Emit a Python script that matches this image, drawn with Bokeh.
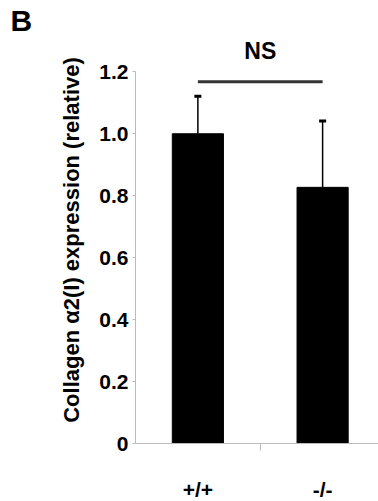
from bokeh.plotting import figure
from bokeh.models import (ColumnDataSource, Range1d, FixedTicker, Whisker, TeeHead, Label)
from bokeh.embed import file_html
from bokeh.resources import INLINE

# ---- data ----
categories = ["+/+", "-/-"]
means = [1.0, 0.827]
errors = [0.121, 0.214]
yticks = [0, 0.2, 0.4, 0.6, 0.8, 1.0, 1.2]
ytick_labels = ["0", "0.2", "0.4", "0.6", "0.8", "1.0", "1.2"]
sig_text = "NS"
sig_line_y = 1.168
sig_text_y = 1.268
panel_letter = "B"
y_label = "Collagen \u03b12(I) expression (relative)"

xs = [i + 0.5 for i in range(len(categories))]
uppers = [m + e for m, e in zip(means, errors)]
src = ColumnDataSource(dict(x=xs, mean=means, upper=uppers))

FONT = "Liberation Sans"
TOP, LEFT, BOTTOM = 36, 135, 58
FH = 407

p = figure(frame_width=243, frame_height=FH, min_border_left=LEFT, min_border_right=0,
           min_border_top=TOP, min_border_bottom=BOTTOM,
           x_range=Range1d(0, 1.948), y_range=Range1d(0, 1.314),
           output_backend="svg", toolbar_location=None)
p.outline_line_color = None
p.xgrid.grid_line_color = None
p.ygrid.grid_line_color = None
p.background_fill_color = "white"

# panel letter as title
p.title.text = panel_letter
p.title.align = "left"
p.title.offset = 10 - LEFT
p.title.standoff = 0
p.title.text_font = FONT
p.title.text_font_style = "bold"
p.title.text_font_size = "30px"
p.title.text_color = "black"

p.vbar(x="x", top="mean", width=0.41, color="black", source=src)
p.add_layout(Whisker(base="x", upper="upper", lower="mean", source=src,
                     line_color="black", line_width=1.5,
                     upper_head=TeeHead(size=7, line_width=3, line_color="black"),
                     lower_head=None))

# significance bar
p.segment(x0=[xs[0]], x1=[xs[1]], y0=[sig_line_y], y1=[sig_line_y],
          line_color="#333333", line_width=3)
p.add_layout(Label(x=(xs[0] + xs[1]) / 2, y=sig_text_y, text=sig_text,
                   text_align="center", text_baseline="middle",
                   text_font=FONT, text_font_style="bold",
                   text_font_size="23px", text_color="black"))

# y axis
ya = p.yaxis[0]
ya.ticker = FixedTicker(ticks=yticks)
ya.major_label_overrides = {t: l for t, l in zip(yticks, ytick_labels)}
ya.bounds = (yticks[0], yticks[-1])
ya.axis_line_color = "#bbbbbb"
ya.major_tick_line_color = "#bbbbbb"
ya.major_tick_out = 3
ya.major_tick_in = 0
ya.minor_tick_line_color = None
ya.major_label_standoff = 4
ya.major_label_text_font = FONT
ya.major_label_text_font_style = "bold"
ya.major_label_text_font_size = "21px"
ya.major_label_text_color = "black"
ya.axis_label = y_label
ya.axis_label_text_font = FONT
ya.axis_label_text_font_style = "bold"
ya.axis_label_text_font_size = "22px"
ya.axis_label_text_color = "black"
ya.axis_label_standoff = 12

# x axis
xa = p.xaxis[0]
xa.ticker = FixedTicker(ticks=xs, minor_ticks=[1.0])
xa.major_label_overrides = {x: c for x, c in zip(xs, categories)}
xa.axis_line_color = "#bbbbbb"
xa.major_tick_line_color = None
xa.major_tick_out = 0
xa.major_tick_in = 0
xa.minor_tick_line_color = "#bbbbbb"
xa.minor_tick_out = 7
xa.minor_tick_in = 0
xa.major_label_standoff = 27
xa.major_label_text_font = FONT
xa.major_label_text_font_style = "bold"
xa.major_label_text_font_size = "21px"
xa.major_label_text_color = "black"

open("out.html", "w").write(file_html(p, INLINE))
